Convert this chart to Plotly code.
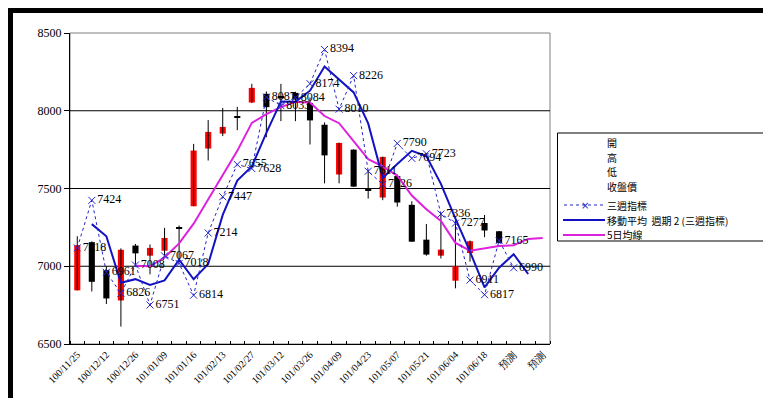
import plotly.graph_objects as go

# ---------------- data ----------------
tick_labels = ["100/11/25", "100/12/12", "100/12/26", "101/01/09", "101/01/16",
               "101/02/13", "101/02/27", "101/03/12", "101/03/26", "101/04/09",
               "101/04/23", "101/05/07", "101/05/21", "101/06/04", "101/06/18",
               "預測", "預測"]

open_ = [6845, 7155, 6975, 6780, 7133, 7068, 7100, 7248, 7386, 7757,
         7853, 7966, 8053, 8109, 8095, 8115, 8050, 7910, 7590, 7750,
         7492, 7442, 7580, 7395, 7171, 7068, 6907, 7085, 7278, 7225]
high = [7193, 7160, 7000, 7115, 7143, 7140, 7247, 7262, 7787, 7940,
        8018, 8025, 8173, 8124, 8173, 8122, 8085, 7925, 7795, 7752,
        7620, 7705, 7590, 7418, 7272, 7345, 7295, 7165, 7330, 7227]
low = [6845, 6838, 6757, 6612, 7010, 6948, 7070, 7030, 7386, 7680,
       7837, 7875, 8050, 7830, 7933, 7933, 7783, 7533, 7533, 7510,
       7435, 7425, 7383, 7156, 7068, 7050, 6858, 7030, 7187, 7148]
close = [7135, 6900, 6793, 7106, 7083, 7118, 7182, 7242, 7744, 7864,
         7896, 7958, 8147, 8023, 8080, 8072, 7938, 7713, 7793, 7512,
         7486, 7703, 7410, 7158, 7075, 7107, 7000, 7161, 7230, 7150]

three_week = [7118, 7424, 6961, 6826, 7008, 6751, 7067, 7018, 6814, 7214,
              7447, 7655, 7628, 8087, 8033, 8084, 8174, 8394, 8010, 8226,
              7611, 7526, 7790, 7694, 7723, 7336, 7277, 6911, 6817, 7165,
              6990]

ma2_start = 1
ma2 = [7271, 7192.5, 6893.5, 6917, 6879.5, 6909, 7042.5, 6916, 7014, 7330.5,
       7551, 7641.5, 7857.5, 8060, 8058.5, 8129, 8284, 8202, 8118, 7918.5,
       7568.5, 7658, 7742, 7708.5, 7529.5, 7306.5, 7094, 6864, 6991, 7077.5,
       6950]

ma5_start = 4
ma5 = [7003, 7000, 7056, 7147, 7274, 7431, 7586, 7742, 7922, 7978,
       8023, 8057, 8053, 7966, 7920, 7804, 7689, 7642, 7582, 7455,
       7367, 7291, 7150, 7100, 7115, 7130, 7135, 7176, 7182]

y_ticks = [6500, 7000, 7500, 8000, 8500]
n_cat = 33

legend_names = ["開", "高", "低", "收盤價", "三週指標", "移動平均  週期 2 (三週指標)", "5日均線"]

# ---------------- styles ----------------
RED = "#FF0000"
BLUE_DOT = "#2323CC"
BLUE = "#1212C2"
MAGENTA = "#DD22DD"
NUM_FONT = "Liberation Serif"
CJK_FONT = "Noto Sans CJK TC"

W, H = 771, 398
L, R, T, B = 62, 542, 25, 336  # plot area in pixels


def fx(px):
    return (px - L) / (R - L)


def fy(py):
    return (B - py) / (B - T)


fig = go.Figure()

# wicks
wx, wy = [], []
for i, (h, l) in enumerate(zip(high, low)):
    wx += [i, i, None]
    wy += [l, h, None]
fig.add_trace(go.Scatter(x=wx, y=wy, mode="lines",
                         line=dict(color="black", width=1),
                         hoverinfo="skip", showlegend=False))

# bodies
idx = list(range(len(open_)))
base = [min(o, c) for o, c in zip(open_, close)]
size = [abs(c - o) for o, c in zip(open_, close)]
cols = [RED if c > o else "#000000" for o, c in zip(open_, close)]
fig.add_trace(go.Bar(x=idx, y=size, base=base, width=0.42,
                     marker=dict(color=cols, line=dict(width=0)),
                     showlegend=False))

# 5-day MA
fig.add_trace(go.Scatter(x=list(range(ma5_start, ma5_start + len(ma5))), y=ma5,
                         mode="lines", line=dict(color=MAGENTA, width=2),
                         showlegend=False))

# moving average period 2
fig.add_trace(go.Scatter(x=list(range(ma2_start, ma2_start + len(ma2))), y=ma2,
                         mode="lines", line=dict(color=BLUE, width=2),
                         showlegend=False))

# three-week indicator
fig.add_trace(go.Scatter(x=list(range(len(three_week))), y=three_week,
                         mode="lines+markers+text",
                         text=[str(v) for v in three_week],
                         textposition="middle right",
                         textfont=dict(family=NUM_FONT, size=12, color="black"),
                         line=dict(color=BLUE_DOT, width=1, dash="dot"),
                         marker=dict(symbol="x-thin-open", size=7,
                                     line=dict(color=BLUE_DOT, width=1)),
                         showlegend=False))

shapes = []
# white chart panel
shapes.append(dict(type="rect", xref="paper", yref="paper",
                   x0=fx(5), x1=fx(767), y0=fy(392), y1=fy(5),
                   fillcolor="white", line=dict(width=0), layer="below"))
# plot border
shapes.append(dict(type="rect", xref="paper", yref="paper",
                   x0=0, x1=1, y0=0, y1=1,
                   line=dict(color="#808080", width=1), layer="below"))
# horizontal grid lines
for v in y_ticks[1:-1]:
    shapes.append(dict(type="line", xref="paper", yref="y",
                       x0=0, x1=1, y0=v, y1=v,
                       line=dict(color="black", width=1), layer="below"))

# legend box
shapes.append(dict(type="rect", xref="paper", yref="paper",
                   x0=fx(549.5), x1=fx(766), y0=fy(233), y1=fy(125),
                   fillcolor="white", line=dict(color="black", width=1)))
leg_y = [134, 149, 163.5, 178, 197, 212, 227]
shapes.append(dict(type="line", xref="paper", yref="paper",
                   x0=fx(556), x1=fx(597), y0=fy(leg_y[4]), y1=fy(leg_y[4]),
                   line=dict(color=BLUE_DOT, width=1, dash="dot")))
shapes.append(dict(type="line", xref="paper", yref="paper",
                   x0=fx(555), x1=fx(597), y0=fy(leg_y[5]), y1=fy(leg_y[5]),
                   line=dict(color=BLUE, width=2)))
shapes.append(dict(type="line", xref="paper", yref="paper",
                   x0=fx(555), x1=fx(597), y0=fy(leg_y[6]), y1=fy(leg_y[6]),
                   line=dict(color=MAGENTA, width=2)))

annotations = []
for name, yy in zip(legend_names, leg_y):
    annotations.append(dict(text=name, xref="paper", yref="paper",
                            x=fx(597), y=fy(yy), xanchor="left", yanchor="middle",
                            showarrow=False,
                            font=dict(family=CJK_FONT, size=10, color="black")))
annotations.append(dict(text="×", xref="paper", yref="paper",
                        x=fx(576.5), y=fy(leg_y[4]), xanchor="center", yanchor="middle",
                        showarrow=False,
                        font=dict(family="DejaVu Sans", size=10, color=BLUE_DOT)))

fig.update_layout(
    width=W, height=H,
    margin=dict(l=L, r=W - R, t=T, b=H - B, pad=0),
    paper_bgcolor="black",
    plot_bgcolor="white",
    showlegend=False,
    shapes=shapes,
    annotations=annotations,
    xaxis=dict(range=[-0.5, n_cat - 0.5],
               tickmode="array",
               tickvals=list(range(0, n_cat, 2)),
               ticktext=tick_labels,
               tickangle=-45,
               ticks="",
               tickfont=dict(family=NUM_FONT, size=10, color="black"),
               showline=True, linecolor="black", linewidth=1,
               showgrid=False, zeroline=False,
               minor=dict(tickmode="array",
                          tickvals=[i - 0.5 for i in range(n_cat + 1)],
                          ticks="inside", ticklen=3, tickcolor="black",
                          showgrid=False)),
    yaxis=dict(range=[y_ticks[0], y_ticks[-1]],
               tickmode="array", tickvals=y_ticks,
               ticks="outside", ticklen=5, tickcolor="black",
               tickfont=dict(family=NUM_FONT, size=12, color="black"),
               showline=True, linecolor="black", linewidth=1,
               showgrid=False, zeroline=False),
)

fig.write_html("out.html")
